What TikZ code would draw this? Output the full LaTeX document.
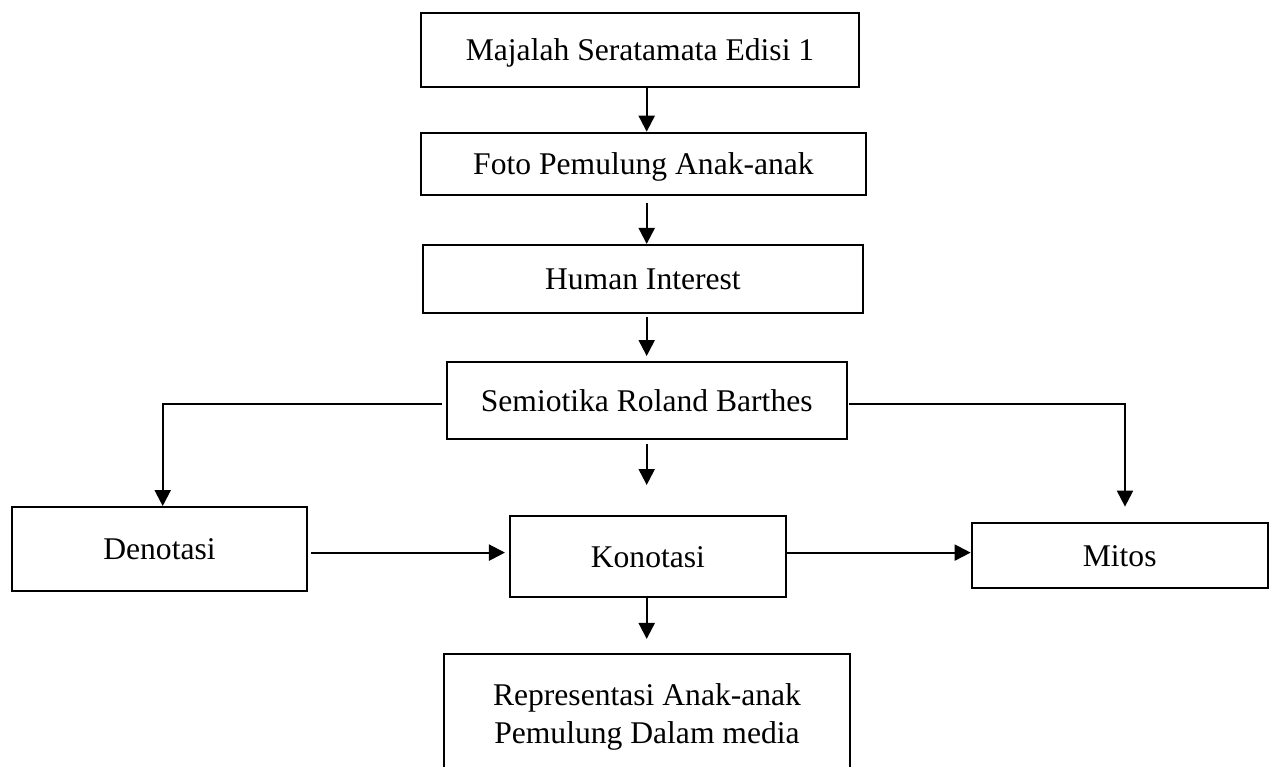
\documentclass[tikz,border=0pt]{standalone}
\usepackage{fontspec}
\setmainfont{Liberation Serif}
\usepackage{tikz}
\usetikzlibrary{calc}
\usetikzlibrary{arrows.meta}
\usetikzlibrary{positioning}
\tikzset{boxnode/.style={draw, line width=1.6pt, inner sep=0pt,
    font=\fontsize{23.7}{28.5}\selectfont, text height=16pt, text depth=0pt},
    boxtwo/.style={draw, line width=1.6pt, inner sep=0pt, align=center,
    font=\fontsize{23.7}{28.7}\selectfont},
    flowline/.style={line width=1.6pt},
    flowarrow/.style={line width=1.6pt, -{Triangle[length=12pt, width=12pt]}}}

\begin{document}
\begin{tikzpicture}[x=0.75pt,y=0.75pt,yscale=-1,xscale=1]
\useasboundingbox (0,0) rectangle (1271,767);

%Shape: Rectangle [id:majalah]
\node [boxnode, minimum width=328.5pt, minimum height=55.5pt] (majalah) at (640,49.7) {Majalah Seratamata Edisi 1};
%Shape: Rectangle [id:foto]
\node [boxnode, minimum width=333.75pt, minimum height=46.7pt] (foto) at (643.5,163.9) {Foto Pemulung Anak-anak};
%Shape: Rectangle [id:human]
\node [boxnode, minimum width=329.8pt, minimum height=51pt] (human) at (642.9,279) {Human Interest};
%Shape: Rectangle [id:semiotika]
\node [boxnode, minimum width=300pt, minimum height=58pt] (semiotika) at (646.7,400.4) {Semiotika Roland Barthes};
%Shape: Rectangle [id:denotasi]
\node [boxnode, minimum width=221.7pt, minimum height=62.8pt] (denotasi) at (159.5,549) {Denotasi};
%Shape: Rectangle [id:konotasi]
\node [boxnode, minimum width=206.8pt, minimum height=60.5pt] (konotasi) at (647.9,556.4) {Konotasi};
%Shape: Rectangle [id:mitos]
\node [boxnode, minimum width=222pt, minimum height=49.2pt] (mitos) at (1119.7,555.5) {Mitos};
%Shape: Rectangle [id:representasi]
\node [boxtwo, minimum width=304.5pt, minimum height=94.2pt] (representasi) at (647,716.8) {Representasi Anak-anak\\Pemulung Dalam media};

% bends and column
\coordinate (col) at (646.7,0);
\coordinate (row) at (0,552.6);
\coordinate (lbend) at (162.7,404.3);
\coordinate (rbend) at (1125,404.3);

%Straight Lines [id:arrows down]
\draw [flowarrow] (majalah.south -| col) -- (foto.north -| col);
\draw [flowarrow, shorten <=5pt] (foto.south -| col) -- (human.north -| col);
\draw [flowarrow, shorten <=2.25pt, shorten >=3.5pt] (human.south -| col) -- (semiotika.north -| col);
\draw [flowarrow, shorten <=2.8pt, shorten >=22.5pt] (semiotika.south -| col) -- (konotasi.north -| col);
\draw [flowarrow, shorten >=10.5pt] (konotasi.south -| col) -- (representasi.north -| col);
%Straight Lines [id:branches]
\draw [flowarrow, shorten <=3pt] (semiotika.west |- lbend) -- (lbend) -- (lbend |- denotasi.north);
\draw [flowarrow, shorten <=1pt, shorten >=11.25pt] (semiotika.east |- rbend) -- (rbend) -- (rbend |- mitos.north);
%Straight Lines [id:arrows across]
\draw [flowarrow, shorten <=2pt, shorten >=3pt] (denotasi.east |- row) -- (konotasi.west |- row);
\draw [flowarrow] (konotasi.east |- row) -- (mitos.west |- row);

\end{tikzpicture}
\end{document}
